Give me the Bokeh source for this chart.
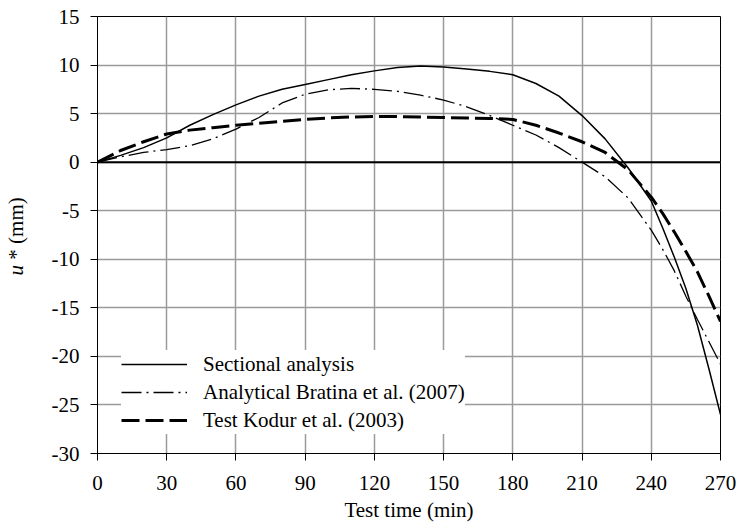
import math
from bokeh.plotting import figure
from bokeh.models import Range1d, FixedTicker, Span, Label, Legend
from bokeh.embed import file_html
from bokeh.resources import INLINE

# ---- data ----
time_min = [0, 10, 20, 30, 40, 50, 60, 70, 80, 90, 100, 110, 120, 130, 140, 150,
            160, 170, 180, 190, 200, 210, 220, 230, 240, 245, 250, 255, 260, 265, 270]
sectional = [0, 0.7, 1.5, 2.5, 3.8, 4.9, 5.9, 6.8, 7.5, 8.0, 8.5, 9.0, 9.4, 9.75, 9.9, 9.8,
             9.6, 9.35, 9.0, 8.1, 6.8, 4.8, 2.4, -0.6, -4.0, -6.8, -9.8, -13.0, -16.8, -21.3, -26.0]
bratina = [0, 0.55, 1.0, 1.3, 1.7, 2.4, 3.4, 4.6, 6.1, 7.0, 7.45, 7.6, 7.5, 7.3, 6.9, 6.4,
           5.7, 4.8, 3.8, 2.8, 1.5, 0.0, -1.5, -3.7, -7.0, -9.0, -11.2, -13.8, -16.2, -18.5, -20.8]
kodur = [0, 1.2, 2.1, 2.9, 3.3, 3.55, 3.8, 4.0, 4.2, 4.4, 4.55, 4.65, 4.7, 4.7, 4.65, 4.6,
         4.55, 4.5, 4.4, 3.8, 3.0, 2.1, 1.0, -0.8, -3.6, -5.3, -7.2, -9.2, -11.3, -13.8, -16.4]

series_labels = ["Sectional analysis", "Analytical Bratina et al. (2007)", "Test Kodur et al. (2003)"]
x_ticks = [0, 30, 60, 90, 120, 150, 180, 210, 240, 270]
y_ticks = [-30, -25, -20, -15, -10, -5, 0, 5, 10, 15]
x_title = "Test time (min)"
y_title_italic = "u"
y_title_rest = "* (mm)"

FONT = "Liberation Serif"
FS = "21px"

p = figure(width=739, height=531, output_backend="svg", toolbar_location=None,
           x_range=Range1d(0, 270), y_range=Range1d(-30, 15),
           min_border_left=95, min_border_right=19, min_border_top=16, min_border_bottom=78)

p.background_fill_color = "white"
p.border_fill_color = "white"
p.outline_line_color = "black"
p.outline_line_width = 1
p.outline_line_alpha = 1

p.xaxis.ticker = FixedTicker(ticks=x_ticks)
p.yaxis.ticker = FixedTicker(ticks=y_ticks)
p.yaxis.major_label_overrides = {t: str(t) for t in y_ticks}
p.xaxis.major_label_overrides = {t: str(t) for t in x_ticks}
for ax in (p.xaxis[0], p.yaxis[0]):
    ax.axis_line_color = "black"
    ax.axis_line_width = 1
    ax.major_tick_line_color = "black"
    ax.major_tick_line_width = 1
    ax.major_tick_out = 7
    ax.major_tick_in = 0
    ax.minor_tick_line_color = None
    ax.major_label_text_font = FONT
    ax.major_label_text_font_size = FS
    ax.major_label_text_color = "black"
p.yaxis.major_label_standoff = 11
p.xaxis.major_label_standoff = 15
p.xaxis.axis_label = x_title
p.xaxis.axis_label_text_font = FONT
p.xaxis.axis_label_text_font_size = FS
p.xaxis.axis_label_text_font_style = "normal"
p.xaxis.axis_label_text_color = "black"
p.xaxis.axis_label_standoff = 5

p.xgrid.grid_line_color = "#9a9a9a"
p.ygrid.grid_line_color = "#9a9a9a"
p.xgrid.grid_line_width = 1.5
p.ygrid.grid_line_width = 1.5

p.add_layout(Span(location=0, dimension="width", line_color="black", line_width=2))

r1 = p.line(time_min, sectional, line_color="black", line_width=1.5)
r2 = p.line(time_min, bratina, line_color="black", line_width=1.3, line_dash="20 5 2 5")
r3 = p.line(time_min, kodur, line_color="black", line_width=3, line_dash="18 6")

legend = Legend(items=[(series_labels[0], [r1]), (series_labels[1], [r2]), (series_labels[2], [r3])],
                location=(24, 19))
legend.label_text_font = FONT
legend.label_text_font_size = FS
legend.label_text_color = "black"
legend.background_fill_color = "white"
legend.background_fill_alpha = 1
legend.border_line_color = None
legend.padding = 14
legend.spacing = 0
legend.margin = 0
legend.glyph_width = 66
legend.glyph_height = 28
legend.label_height = 28
legend.label_standoff = 16
p.add_layout(legend, "center")

# y axis title: italic "u" followed by "* (mm)", rotated (placed in the left side panel)
p.add_layout(Label(x=-35.5, y=-11.66, text=y_title_italic, angle=math.pi / 2,
                   text_font=FONT, text_font_size=FS, text_font_style="italic",
                   text_align="left", text_baseline="alphabetic", text_color="black"), "left")
p.add_layout(Label(x=-35.5, y=-10.04, text=y_title_rest, angle=math.pi / 2,
                   text_font=FONT, text_font_size=FS,
                   text_align="left", text_baseline="alphabetic", text_color="black"), "left")

open("out.html", "w").write(file_html(p, INLINE))
